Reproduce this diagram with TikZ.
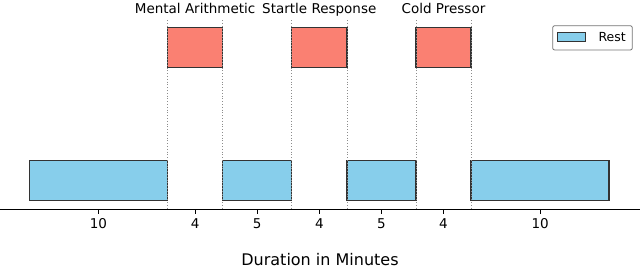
\documentclass[tikz,border=0pt]{standalone}
\usepackage{fontspec}
\setmainfont{DejaVu Sans}
\usetikzlibrary{positioning}
\definecolor{restblue}{HTML}{87CEEB}
\definecolor{taskred}{HTML}{FA8072}

\begin{document}
\begin{tikzpicture}[x=1pt,y=-1pt,
    rest/.style={draw=black!80,line width=1.3pt,fill=restblue,inner sep=0pt,outer sep=0pt,minimum height=40pt},
    task/.style={draw=black!80,line width=1.3pt,fill=taskred,inner sep=0pt,outer sep=0pt,minimum height=40pt},
    guide/.style={black!45,dotted,line width=0.8pt},
    lab/.style={font=\fontsize{13.5}{16}\selectfont,anchor=base,inner sep=0pt}
  ]
    \useasboundingbox (0,0) rectangle (640,268);
    \coordinate (top) at (0,20);
    \coordinate (axL) at (0,209);
    \coordinate (axR) at (640,209);
    % rest and task blocks
    \node[rest,minimum width=138pt] (r1) at (98.5,180.7) {};
    \node[task,minimum width=55.2pt] (t1) at (195.1,47.3) {};
    \node[rest,minimum width=69pt] (r2) at (257.2,180.7) {};
    \node[task,minimum width=55.2pt] (t2) at (319.3,47.3) {};
    \node[rest,minimum width=69pt] (r3) at (381.4,180.7) {};
    \node[task,minimum width=55.2pt] (t3) at (443.5,47.3) {};
    \node[rest,minimum width=138pt] (r4) at (540.1,180.7) {};
    % boundaries
    \draw[guide] (t1.west |- top) -- (t1.west |- axL);
    \draw[guide] (t1.east |- top) -- (t1.east |- axL);
    \draw[guide] (t2.west |- top) -- (t2.west |- axL);
    \draw[guide] (t2.east |- top) -- (t2.east |- axL);
    \draw[guide] (t3.west |- top) -- (t3.west |- axL);
    \draw[guide] (t3.east |- top) -- (t3.east |- axL);
    \node[lab] (mathlab) at (195.1,13) {Mental Arithmetic};
    \node[lab] (startlab) at (319.3,13) {Startle Response};
    \node[lab] (coldlab) at (443.5,13) {Cold Pressor};
    % axis
    \draw[line width=0.9pt] (axL) -- (axR);
    \draw[line width=0.9pt] (r1 |- axL) -- ++(0,4.5);
    \draw[line width=0.9pt] (t1 |- axL) -- ++(0,4.5);
    \draw[line width=0.9pt] (r2 |- axL) -- ++(0,4.5);
    \draw[line width=0.9pt] (t2 |- axL) -- ++(0,4.5);
    \draw[line width=0.9pt] (r3 |- axL) -- ++(0,4.5);
    \draw[line width=0.9pt] (t3 |- axL) -- ++(0,4.5);
    \draw[line width=0.9pt] (r4 |- axL) -- ++(0,4.5);
    \node[lab] (n1) at (98.5,228.5) {10};
    \node[lab] (n2) at (195.1,228.5) {4};
    \node[lab] (n3) at (257.2,228.5) {5};
    \node[lab] (n4) at (319.3,228.5) {4};
    \node[lab] (n5) at (381.4,228.5) {5};
    \node[lab] (n6) at (443.5,228.5) {4};
    \node[lab] (n7) at (540.1,228.5) {10};
    \node[lab,font=\fontsize{16}{19}\selectfont] (xlab) at (320,265.7) {Duration in Minutes};
    % legend
    \node[draw=black!55,line width=0.8pt,rounded corners=2pt,minimum width=79.6pt,minimum height=24.3pt,inner sep=0pt] (legend) at (592.5,37.85) {};
    \node[rest,minimum width=28pt,minimum height=9.4pt,line width=1.2pt] (legpatch) at (571.7,37) {};
    \node[lab,anchor=base west,font=\fontsize{12.5}{15}\selectfont] (legtext) at (598.3,41.7) {Rest};
  \end{tikzpicture}
\end{document}
